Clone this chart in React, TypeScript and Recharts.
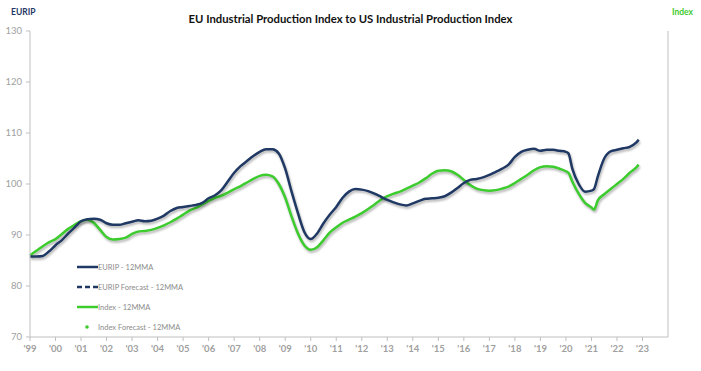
import { LineChart, Line, XAxis, YAxis } from 'recharts'

const years = [
  1999.0, 1999.25, 1999.5, 1999.75, 2000.0, 2000.25, 2000.5, 2000.75,
  2001.0, 2001.25, 2001.5, 2001.75, 2002.0, 2002.25, 2002.5, 2002.75,
  2003.0, 2003.25, 2003.5, 2003.75, 2004.0, 2004.25, 2004.5, 2004.75,
  2005.0, 2005.25, 2005.5, 2005.75, 2006.0, 2006.25, 2006.5, 2006.75,
  2007.0, 2007.25, 2007.5, 2007.75, 2008.0, 2008.25, 2008.5, 2008.75,
  2009.0, 2009.25, 2009.5, 2009.75, 2010.0, 2010.25, 2010.5, 2010.75,
  2011.0, 2011.25, 2011.5, 2011.75, 2012.0, 2012.25, 2012.5, 2012.75,
  2013.0, 2013.25, 2013.5, 2013.75, 2014.0, 2014.25, 2014.5, 2014.75,
  2015.0, 2015.25, 2015.5, 2015.75, 2016.0, 2016.25, 2016.5, 2016.75,
  2017.0, 2017.25, 2017.5, 2017.75, 2018.0, 2018.25, 2018.5, 2018.75,
  2019.0, 2019.25, 2019.5, 2019.75, 2020.0, 2020.1, 2020.25, 2020.5, 2020.75,
  2021.0, 2021.1, 2021.25, 2021.5, 2021.75, 2022.0, 2022.25, 2022.5, 2022.75, 2022.85,
]

const eurip = [
  85.8, 85.8, 85.9, 86.8, 88.0, 89.0, 90.3, 91.5,
  92.7, 93.1, 93.2, 93.0, 92.3, 92.0, 92.0, 92.3,
  92.6, 92.9, 92.7, 92.8, 93.2, 93.8, 94.7, 95.3,
  95.5, 95.7, 95.9, 96.3, 97.2, 97.8, 98.8, 100.5,
  102.2, 103.5, 104.5, 105.5, 106.3, 106.8, 106.8, 106.0,
  103.0, 98.5, 94.3, 90.6, 89.2, 90.3, 92.3, 94.0,
  95.5, 97.3, 98.5, 99.0, 98.9, 98.6, 98.1, 97.5,
  96.9, 96.4, 96.0, 95.8, 96.2, 96.7, 97.1, 97.2,
  97.3, 97.6, 98.3, 99.2, 100.2, 100.8, 101.0, 101.3,
  101.8, 102.4, 103.0, 103.8, 105.3, 106.3, 106.7, 106.9,
  106.5, 106.7, 106.7, 106.5, 106.3, 106.0, 103.0, 100.0, 98.5,
  98.7, 99.0, 101.5, 105.0, 106.4, 106.7, 107.0, 107.3, 108.1, 108.7,
]

const index = [
  86.0, 86.9, 87.8, 88.6, 89.2, 90.2, 91.2, 92.0,
  92.7, 93.0, 92.4, 91.0, 89.6, 89.1, 89.2, 89.5,
  90.2, 90.7, 90.8, 91.0, 91.4, 91.9, 92.5, 93.2,
  94.0, 94.8, 95.3, 96.0, 96.7, 97.3, 97.7, 98.3,
  99.0, 99.6, 100.3, 101.0, 101.6, 101.8, 101.5, 100.0,
  97.3, 93.6, 90.3, 88.0, 87.1, 87.6, 89.0, 90.5,
  91.5, 92.4, 93.0, 93.6, 94.3, 95.1, 96.0, 96.9,
  97.6, 98.1, 98.5, 99.1, 99.7, 100.3, 101.1, 102.0,
  102.6, 102.7, 102.5, 101.8, 100.8, 99.8, 99.1, 98.8,
  98.7, 98.8, 99.1, 99.5, 100.2, 101.0, 101.8, 102.7,
  103.3, 103.5, 103.4, 103.0, 102.5, 102.2, 100.5, 98.1, 96.3,
  95.4, 95.0, 96.8, 98.0, 99.0, 100.0, 101.0, 102.2, 103.2, 103.8,
]

const yearTicks = [
  1999, 2000, 2001, 2002, 2003, 2004, 2005, 2006, 2007, 2008, 2009, 2010,
  2011, 2012, 2013, 2014, 2015, 2016, 2017, 2018, 2019, 2020, 2021, 2022, 2023,
]
const valueTicks = [70, 80, 90, 100, 110, 120, 130]

const legendItems = [
  { label: 'EURIP - 12MMA', kind: 'solid', color: '#1F3864' },
  { label: 'EURIP Forecast - 12MMA', kind: 'dash', color: '#1F3864' },
  { label: 'Index - 12MMA', kind: 'solid', color: '#3DCC2E' },
  { label: 'Index Forecast - 12MMA', kind: 'dot', color: '#3DCC2E' },
]

const data = years.map((year, i) => ({ year, eurip: eurip[i], index: index[i] }))

const FONT = 'Lato, "Open Sans", sans-serif'
const NAVY = '#1F3864'
const GREEN = '#3DCC2E'
const AXIS = '#BFBFBF'
const TICK = '#A0A0A0'

function ChartLegend() {
  return (
    <div style={{ position: 'absolute', left: 77, top: 257, fontFamily: FONT, fontSize: 7.5, color: '#8C8C8C' }}>
      {legendItems.map((item) => (
        <div key={item.label} style={{ display: 'flex', alignItems: 'center', height: 20 }}>
          <svg width={21} height={6}>
            {item.kind === 'solid' && <line x1={0} y1={3} x2={21} y2={3} stroke={item.color} strokeWidth={2.5} />}
            {item.kind === 'dash' && (
              <line x1={0} y1={3} x2={21} y2={3} stroke={item.color} strokeWidth={2.5} strokeDasharray="5 3" />
            )}
            {item.kind === 'dot' && <circle cx={10} cy={3} r={1.8} fill={item.color} />}
          </svg>
          <span>{item.label}</span>
        </div>
      ))}
    </div>
  )
}

export default function App() {
  return (
    <div style={{ position: 'fixed', left: 0, top: 0, width: 701, height: 371, background: '#fff' }}>
      <style>{`.recharts-line-curve { filter: drop-shadow(1px 2px 1.2px rgba(0,0,0,0.3)); }`}</style>
      <div
        style={{
          position: 'absolute',
          left: 0,
          width: 701,
          top: 12,
          textAlign: 'center',
          fontFamily: FONT,
          fontWeight: 700,
          fontSize: 11.3,
          color: '#111',
        }}
      >
        EU Industrial Production Index to US Industrial Production Index
      </div>
      <div style={{ position: 'absolute', left: 11, top: 7, fontFamily: FONT, fontWeight: 700, fontSize: 8.5, color: NAVY }}>
        EURIP
      </div>
      <div style={{ position: 'absolute', left: 672, top: 7, fontFamily: FONT, fontWeight: 700, fontSize: 8.5, color: GREEN }}>
        Index
      </div>
      <LineChart width={701} height={371} data={data} margin={{ top: 31, right: 0, bottom: 0, left: 0 }}>
        <XAxis
          dataKey="year"
          type="number"
          domain={[1999, 2024]}
          ticks={yearTicks}
          interval={0}
          tickFormatter={(y: number) => "'" + String(y).slice(2)}
          stroke={AXIS}
          tickSize={4}
          tickMargin={4}
          height={34}
          tick={{ fill: TICK, fontSize: 9.5, fontFamily: FONT, fontWeight: 700 }}
        />
        <YAxis
          yAxisId="left"
          domain={[70, 130]}
          ticks={valueTicks}
          width={30}
          stroke={AXIS}
          tickSize={4}
          tickMargin={4}
          tick={{ fill: TICK, fontSize: 9.5, fontFamily: FONT }}
        />
        <YAxis
          yAxisId="right"
          orientation="right"
          domain={[70, 130]}
          ticks={valueTicks}
          width={33}
          stroke={AXIS}
          tickSize={4}
          tickMargin={4}
          tick={{ fill: TICK, fontSize: 9.5, fontFamily: FONT }}
        />
        <Line
          yAxisId="left"
          dataKey="index"
          stroke={GREEN}
          strokeWidth={2.5}
          dot={false}
          type="monotone"
          isAnimationActive={false}
        />
        <Line
          yAxisId="left"
          dataKey="eurip"
          stroke={NAVY}
          strokeWidth={2.5}
          dot={false}
          type="monotone"
          isAnimationActive={false}
        />
      </LineChart>
      <ChartLegend />
    </div>
  )
}
